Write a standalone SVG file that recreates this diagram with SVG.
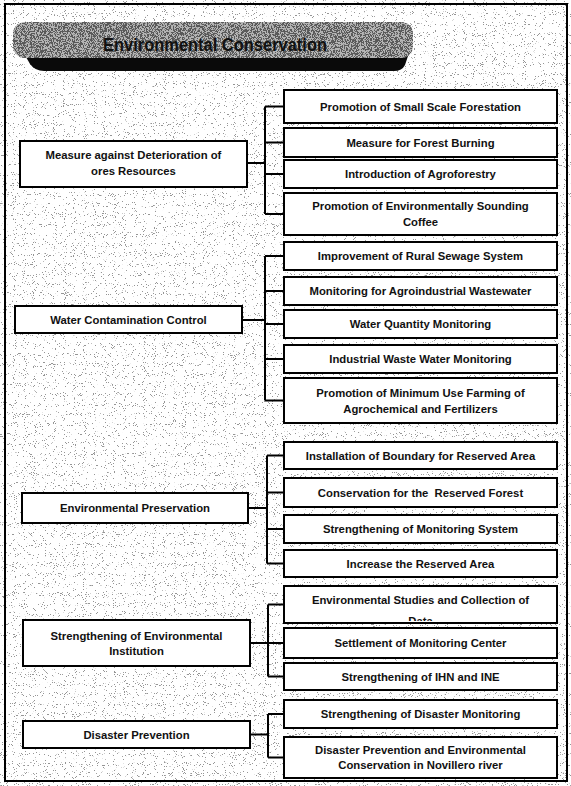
<svg xmlns="http://www.w3.org/2000/svg" width="571" height="786" viewBox="0 0 571 786">
  <defs>
    <style>
      .box { fill: #ffffff; stroke: #000000; stroke-width: 2; }
      .t { font-family: "Liberation Sans", Arial, sans-serif; font-size: 11.3px; font-weight: bold; fill: #111111; text-anchor: middle; }
      .title { font-family: "Liberation Sans", Arial, sans-serif; font-size: 18px; font-weight: bold; fill: #111111; text-anchor: middle; }
      .conn { fill: none; stroke: #000000; stroke-width: 2; }
    </style>
    <filter id="speckle" x="0" y="0" width="100%" height="100%" filterUnits="objectBoundingBox">
      <feTurbulence type="fractalNoise" baseFrequency="1.1" numOctaves="1" seed="7" result="n"/>
      <feColorMatrix in="n" type="matrix" values="0 0 0 0 0.3  0 0 0 0 0.3  0 0 0 0 0.3  -30 0 0 0 10.5"/>
    </filter>
    <filter id="dense" x="0" y="0" width="100%" height="100%" filterUnits="objectBoundingBox">
      <feTurbulence type="fractalNoise" baseFrequency="1.2" numOctaves="1" seed="3" result="n"/>
      <feColorMatrix in="n" type="matrix" values="0 0 0 0 0.1  0 0 0 0 0.1  0 0 0 0 0.1  -30 0 0 0 15.5"/>
    </filter>
    <clipPath id="bannerClip">
      <rect x="13" y="22" width="400" height="36" rx="12"/>
    </clipPath>
    <clipPath id="r4aClip">
      <rect x="284" y="587" width="273" height="34"/>
    </clipPath>
  </defs>

  <!-- background -->
  <rect x="0" y="0" width="571" height="786" fill="#ffffff"/>
  <rect x="0" y="0" width="571" height="786" fill="#ffffff" filter="url(#speckle)"/>
  <rect x="5" y="4" width="562" height="777" fill="none" stroke="#000000" stroke-width="2"/>

  <!-- title banner -->
  <g id="title">
    <path d="M 22,50 L 410,50 L 405,65 Q 402,71 394,71 L 44,71 Q 35,71 30,64 Z" fill="#0a0a0a"/>
    <rect x="13" y="22" width="400" height="36" rx="12" fill="#b4b4b4"/>
    <rect x="13" y="22" width="400" height="36" fill="#000" filter="url(#dense)" clip-path="url(#bannerClip)"/>
    <text class="title" x="215" y="51" textLength="224" lengthAdjust="spacingAndGlyphs">Environmental Conservation</text>
  </g>

  <!-- connectors -->
  <g id="connectors">
    <path class="conn" d="M247,163 H265 M265,106.5 V214 M265,106.5 H284 M265,142.5 H284 M265,174 H284 M265,214 H284"/>
    <path class="conn" d="M242,320 H265 M265,256 V400.5 M265,256 H284 M265,291 H284 M265,324 H284 M265,359 H284 M265,400.5 H284"/>
    <path class="conn" d="M248,508 H267 M267,455.5 V563.5 M267,455.5 H284 M267,492.5 H284 M267,529 H284 M267,563.5 H284"/>
    <path class="conn" d="M250,643 H268 M268,604.5 V676.5 M268,604.5 H284 M268,643 H284 M268,676.5 H284"/>
    <path class="conn" d="M250,734.5 H268 M268,714 V757.5 M268,714 H284 M268,757.5 H284"/>
  </g>

  <!-- group 1 -->
  <g id="n-measure-deterioration">
    <rect class="box" x="20" y="141" width="227" height="46"/>
    <text class="t" x="133.5" y="159">Measure against Deterioration of</text>
    <text class="t" x="133.5" y="175">ores Resources</text>
  </g>
  <g id="n-small-scale-forestation">
    <rect class="box" x="284" y="90" width="273" height="33"/>
    <text class="t" x="420.5" y="110.5">Promotion of Small Scale Forestation</text>
  </g>
  <g id="n-forest-burning">
    <rect class="box" x="284" y="128" width="273" height="29"/>
    <text class="t" x="420.5" y="146.5">Measure for Forest Burning</text>
  </g>
  <g id="n-agroforestry">
    <rect class="box" x="284" y="160" width="273" height="28"/>
    <text class="t" x="420.5" y="178">Introduction of Agroforestry</text>
  </g>
  <g id="n-coffee">
    <rect class="box" x="284" y="193" width="273" height="42"/>
    <text class="t" x="420.5" y="210">Promotion of Environmentally Sounding</text>
    <text class="t" x="420.5" y="226">Coffee</text>
  </g>

  <!-- group 2 -->
  <g id="n-water-contamination">
    <rect class="box" x="15" y="306" width="227" height="27"/>
    <text class="t" x="128.5" y="323.5">Water Contamination Control</text>
  </g>
  <g id="n-rural-sewage">
    <rect class="box" x="284" y="242" width="273" height="28"/>
    <text class="t" x="420.5" y="260">Improvement of Rural Sewage System</text>
  </g>
  <g id="n-agroindustrial">
    <rect class="box" x="284" y="277" width="273" height="28"/>
    <text class="t" x="420.5" y="295">Monitoring for Agroindustrial Wastewater</text>
  </g>
  <g id="n-water-quality">
    <rect class="box" x="284" y="310" width="273" height="28"/>
    <text class="t" x="420.5" y="328">Water Quantity Monitoring</text>
  </g>
  <g id="n-industrial-waste">
    <rect class="box" x="284" y="345" width="273" height="28"/>
    <text class="t" x="420.5" y="363">Industrial Waste Water Monitoring</text>
  </g>
  <g id="n-minimum-use">
    <rect class="box" x="284" y="378" width="273" height="45"/>
    <text class="t" x="420.5" y="397">Promotion of Minimum Use Farming of</text>
    <text class="t" x="420.5" y="413">Agrochemical and Fertilizers</text>
  </g>

  <!-- group 3 -->
  <g id="n-env-preservation">
    <rect class="box" x="22" y="493" width="226" height="30"/>
    <text class="t" x="135" y="512">Environmental Preservation</text>
  </g>
  <g id="n-boundary">
    <rect class="box" x="284" y="442" width="273" height="27"/>
    <text class="t" x="420.5" y="459.5">Installation of Boundary for Reserved Area</text>
  </g>
  <g id="n-reserved-forest">
    <rect class="box" x="284" y="478" width="273" height="29"/>
    <text class="t" x="420.5" y="496.5" xml:space="preserve">Conservation for the  Reserved Forest</text>
  </g>
  <g id="n-monitoring-system">
    <rect class="box" x="284" y="515" width="273" height="28"/>
    <text class="t" x="420.5" y="533">Strengthening of Monitoring System</text>
  </g>
  <g id="n-increase-area">
    <rect class="box" x="284" y="550" width="273" height="27"/>
    <text class="t" x="420.5" y="567.5">Increase the Reserved Area</text>
  </g>

  <!-- group 4 -->
  <g id="n-env-institution">
    <rect class="box" x="23" y="620" width="227" height="46"/>
    <text class="t" x="136.5" y="640">Strengthening of Environmental</text>
    <text class="t" x="136.5" y="655">Institution</text>
  </g>
  <g id="n-env-studies">
    <rect class="box" x="284" y="586" width="273" height="37"/>
    <g clip-path="url(#r4aClip)">
      <text class="t" x="420.5" y="604">Environmental Studies and Collection of</text>
      <text class="t" x="420.5" y="625">Data</text>
    </g>
  </g>
  <g id="n-monitoring-center">
    <rect class="box" x="284" y="628" width="273" height="30"/>
    <text class="t" x="420.5" y="647">Settlement of Monitoring Center</text>
  </g>
  <g id="n-ihn-ine">
    <rect class="box" x="284" y="663" width="273" height="27"/>
    <text class="t" x="420.5" y="680.5">Strengthening of IHN and INE</text>
  </g>

  <!-- group 5 -->
  <g id="n-disaster-prevention">
    <rect class="box" x="23" y="721" width="227" height="27"/>
    <text class="t" x="136.5" y="738.5">Disaster Prevention</text>
  </g>
  <g id="n-disaster-monitoring">
    <rect class="box" x="284" y="700" width="273" height="28"/>
    <text class="t" x="420.5" y="718">Strengthening of Disaster Monitoring</text>
  </g>
  <g id="n-novillero">
    <rect class="box" x="284" y="737" width="273" height="41"/>
    <text class="t" x="420.5" y="754">Disaster Prevention and Environmental</text>
    <text class="t" x="420.5" y="769">Conservation in Novillero river</text>
  </g>
</svg>
